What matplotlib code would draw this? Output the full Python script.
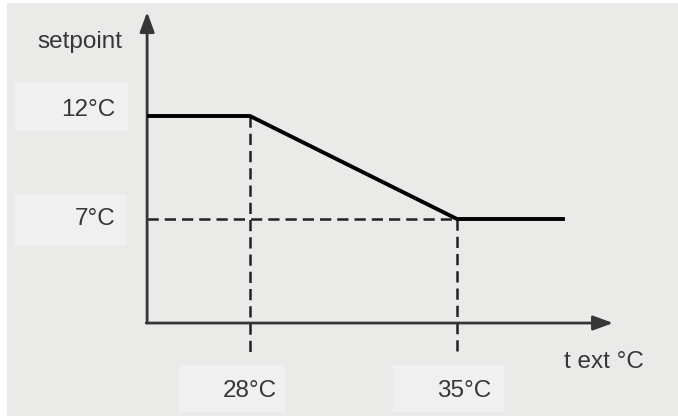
import matplotlib.pyplot as plt
from matplotlib.patches import Rectangle

# setpoint curve: outside temperature (C) -> water setpoint (C)
t_ext = [24.52, 28, 35, 38.65]
setpoint = [12, 12, 7, 7]

tick_x = [28, 35]
tick_x_labels = ['28°C', '35°C']
tick_y = [12, 7]
tick_y_labels = ['12°C', '7°C']

x_origin, y_origin = 24.52, 1.95
x_arrow, y_arrow = 40.28, 17.05
dash_bottom = 0.45

plt.rcParams['font.family'] = ['Liberation Sans', 'DejaVu Sans']

fig = plt.figure(figsize=(6.78, 4.16), dpi=100, facecolor='white')
ax = fig.add_axes([0, 0, 1, 1])
ax.set_xlim(19.545, 42.474)
ax.set_ylim(-2.563, 17.631)
ax.axis('off')

bg = '#eaebe9'
box = '#eff0ef'
txt = '#363636'
ax.add_patch(Rectangle((0.010, 0), 0.99, 0.992, transform=ax.transAxes,
                       facecolor=bg, edgecolor='none', zorder=0))

# light boxes behind the labels
for (x0, y0, w, h) in [(15, 83, 113, 48), (15, 195, 112, 50),
                       (178, 365, 108, 47), (393, 365, 111, 47)]:
    ax.add_patch(Rectangle((x0 / 678, 1 - (y0 + h) / 416), w / 678, h / 416,
                           transform=ax.transAxes, facecolor=box,
                           edgecolor='none', zorder=1))

# axes with arrows
head = '-|>,head_length=0.6,head_width=0.22'
ax.annotate('', xy=(x_origin, y_arrow), xytext=(x_origin, y_origin),
            arrowprops=dict(arrowstyle=head, mutation_scale=20, lw=2,
                            color=txt, shrinkA=0, shrinkB=0), zorder=3)
ax.annotate('', xy=(x_arrow, y_origin), xytext=(x_origin - 0.03, y_origin),
            arrowprops=dict(arrowstyle=head, mutation_scale=20, lw=2,
                            color=txt, shrinkA=0, shrinkB=0), zorder=3)

# dashed guides
dash = dict(color='#222222', lw=1.8, linestyle=(0, (4.5, 2.4)), zorder=2)
ax.plot([tick_x[0], tick_x[0]], [setpoint[1], dash_bottom], **dash)
ax.plot([tick_x[1], tick_x[1]], [setpoint[2], dash_bottom], **dash)
ax.plot([x_origin, tick_x[1]], [tick_y[1], tick_y[1]], **dash)

# setpoint line
ax.plot(t_ext, setpoint, color='black', lw=2.8, solid_capstyle='butt', zorder=4)

# labels
fs = 17.5
for y, lab, dy in zip(tick_y, tick_y_labels, [0.3, 0.0]):
    ax.text(23.45, y + dy, lab, ha='right', va='center', fontsize=fs,
            color=txt, zorder=5)
for x, lab in zip(tick_x, tick_x_labels):
    ax.text(x + (0.0 if x == 28 else 0.25), -1.33, lab, ha='center',
            va='center', fontsize=fs, color=txt, zorder=5)
ax.text(22.25, 15.6, 'setpoint', ha='center', va='center', fontsize=fs,
        color=txt)
ax.text(39.98, 0.05, 't ext °C', ha='center', va='center', fontsize=fs,
        color=txt)

fig.savefig('out.png', dpi=100, facecolor='white')
